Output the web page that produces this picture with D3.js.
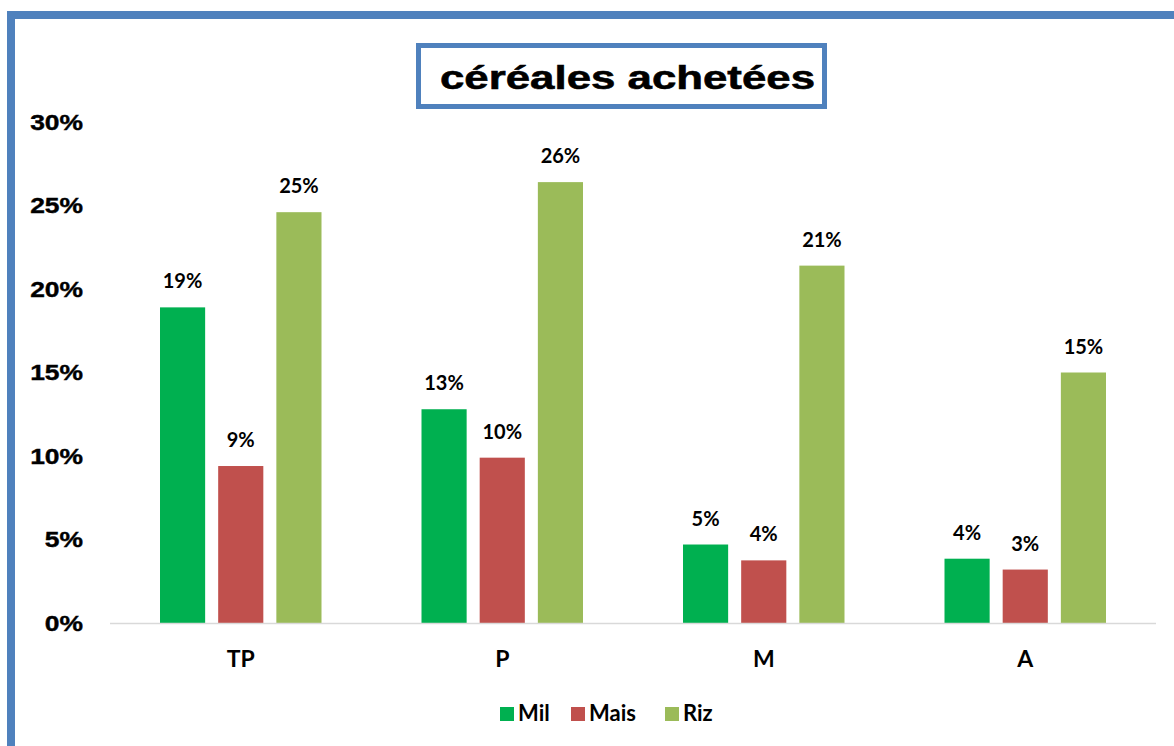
<!DOCTYPE html>
<html>
<head>
<meta charset="utf-8">
<script src="https://cdn.jsdelivr.net/npm/d3@7"></script>
<style>
  html, body { margin: 0; padding: 0; background: #fff; }
  svg { display: block; }
</style>
</head>
<body>
<svg id="chart" width="1174" height="746"></svg>
<script>
const categories = ["TP", "P", "M", "A"];
const seriesNames = ["Mil", "Mais", "Riz"];
const mil  = [0.189, 0.128, 0.047, 0.0385];
const mais = [0.094, 0.099, 0.0375, 0.032];
const riz  = [0.246, 0.264, 0.214, 0.150];
const yTicks = [0, 0.05, 0.10, 0.15, 0.20, 0.25, 0.30];
const colors = ["#00B050", "#C0504D", "#9BBB59"];
const titleText = "céréales achetées";

const seriesValues = [mil, mais, riz];
const data = categories.map((c, i) => ({
  cat: c,
  vals: seriesNames.map((s, j) => ({ s, v: seriesValues[j][i], color: colors[j] }))
}));

const svg = d3.select("#chart");

// outer frame (top and left blue borders)
svg.append("rect").attr("x", 7).attr("y", 11).attr("width", 1180).attr("height", 8).attr("fill", "#4F81BD");
svg.append("rect").attr("x", 7).attr("y", 11).attr("width", 8).attr("height", 740).attr("fill", "#4F81BD");

const x0 = d3.scaleBand().domain(categories).range([110, 1156]).paddingInner(0).paddingOuter(0);
const x1 = d3.scaleBand().domain(seriesNames).range([50, x0.bandwidth() - 50]).paddingInner(0.224).paddingOuter(0);
const y = d3.scaleLinear().domain([0, 0.30]).range([623, 122]);

// y tick labels
const yAxis = svg.append("g");
yAxis.selectAll("text").data(yTicks).join("text")
  .attr("transform", d => `translate(83,${y(d)}) scale(1.2,1)`)
  .attr("text-anchor", "end")
  .attr("dominant-baseline", "central")
  .attr("font-family", "Liberation Sans, Arial, sans-serif")
  .attr("font-weight", "bold")
  .attr("font-size", 22)
  .attr("fill", "#000")
  .attr("stroke", "#000")
  .attr("stroke-width", 0.4)
  .text(d3.format(".0%"));

// bars
const groups = svg.append("g").selectAll("g").data(data).join("g")
  .attr("transform", d => `translate(${x0(d.cat)},0)`);

groups.selectAll("rect").data(d => d.vals).join("rect")
  .attr("x", d => x1(d.s))
  .attr("y", d => y(d.v))
  .attr("width", x1.bandwidth())
  .attr("height", d => y(0) - y(d.v))
  .attr("fill", d => d.color);

groups.selectAll("text").data(d => d.vals).join("text")
  .attr("x", d => x1(d.s) + x1.bandwidth() / 2)
  .attr("y", d => y(d.v) - 19)
  .attr("text-anchor", "middle")
  .attr("font-family", "Lato, sans-serif")
  .attr("font-weight", "bold")
  .attr("font-size", 20)
  .attr("fill", "#000")
  .text(d => d3.format(".0%")(d.v));

// baseline
svg.append("line")
  .attr("x1", 110).attr("x2", 1156)
  .attr("y1", y(0) + 0.5).attr("y2", y(0) + 0.5)
  .attr("stroke", "#d9d9d9").attr("stroke-width", 1.5);

// category labels
svg.append("g").selectAll("text").data(categories).join("text")
  .attr("x", d => x0(d) + x0.bandwidth() / 2)
  .attr("y", 667)
  .attr("text-anchor", "middle")
  .attr("font-family", "Lato, sans-serif")
  .attr("font-weight", "bold")
  .attr("font-size", 23)
  .attr("fill", "#000")
  .text(d => d);

// legend
const legendX = [500, 571, 665];
const legend = svg.append("g").selectAll("g").data(seriesNames).join("g")
  .attr("transform", (d, i) => `translate(${legendX[i]},707)`);
legend.append("rect").attr("width", 14).attr("height", 14).attr("fill", (d, i) => colors[i]);
legend.append("text")
  .attr("x", 18).attr("y", 14)
  .attr("font-family", "Lato, sans-serif")
  .attr("font-weight", "bold")
  .attr("font-size", 22)
  .attr("fill", "#000")
  .text(d => d);

// title box
svg.append("rect")
  .attr("x", 418.5).attr("y", 45.5).attr("width", 406).attr("height", 61)
  .attr("fill", "#fff").attr("stroke", "#4F81BD").attr("stroke-width", 5);
svg.append("text")
  .attr("x", 440).attr("y", 89)
  .attr("textLength", 375).attr("lengthAdjust", "spacingAndGlyphs")
  .attr("font-family", "Liberation Sans, Arial, sans-serif")
  .attr("font-weight", "bold")
  .attr("font-size", 34)
  .attr("fill", "#000")
  .attr("stroke", "#000")
  .attr("stroke-width", 0.6)
  .text(titleText);
</script>
</body>
</html>
